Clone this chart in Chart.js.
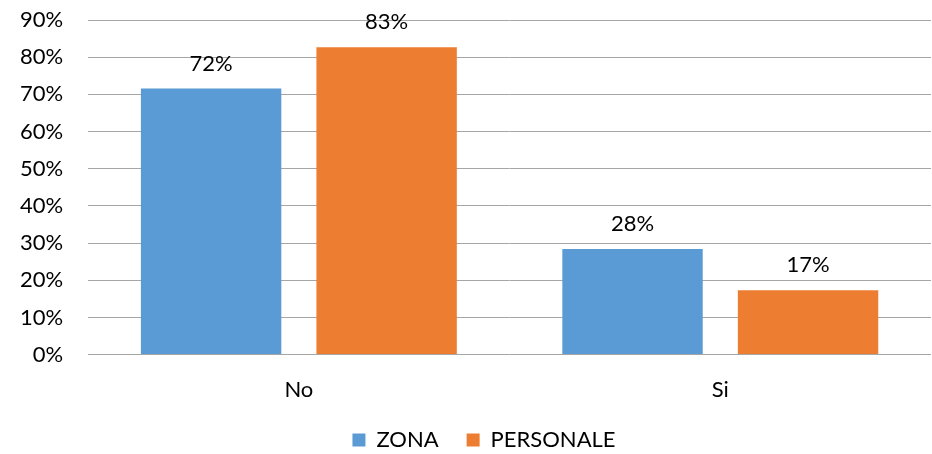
<!DOCTYPE html>
<html>
<head>
<meta charset="utf-8">
<script src="https://cdn.jsdelivr.net/npm/chart.js@4"></script>
<style>
  body { margin: 0; background: #fff; }
  #wrap { width: 932px; height: 454px; }
</style>
</head>
<body>
<div id="wrap"><canvas id="chart" width="932" height="454"></canvas></div>
<script>
const categories = ['No', 'Si'];
const zona = [71.6, 28.4];
const personale = [82.7, 17.3];
const seriesNames = ['ZONA', 'PERSONALE'];

const FONT = 'Lato, "Open Sans", sans-serif';

// draw the percentage above each bar
const barLabels = {
  id: 'barLabels',
  afterDatasetsDraw(chart) {
    const ctx = chart.ctx;
    ctx.save();
    ctx.font = '22px ' + FONT;
    ctx.fillStyle = '#000';
    ctx.textAlign = 'center';
    ctx.textBaseline = 'bottom';
    chart.data.datasets.forEach((ds, i) => {
      chart.getDatasetMeta(i).data.forEach((bar, j) => {
        ctx.fillText(Math.round(ds.data[j]) + '%', bar.x, bar.y - 14);
      });
    });
    ctx.restore();
  }
};

// legend centring counts trailing padding; nudge it back right
const legendShift = {
  id: 'legendShift',
  afterLayout(chart) {
    chart.legend.left += 21;
    chart.legend.right += 21;
  }
};

new Chart(document.getElementById('chart'), {
  type: 'bar',
  data: {
    labels: categories,
    datasets: [
      { label: seriesNames[0], data: zona, backgroundColor: '#5B9BD5' },
      { label: seriesNames[1], data: personale, backgroundColor: '#ED7D31' }
    ]
  },
  options: {
    responsive: false,
    animation: false,
    devicePixelRatio: 1,
    categoryPercentage: 0.833,
    barPercentage: 0.8,
    layout: { padding: { top: 0, right: 1, left: -5, bottom: -7 } },
    scales: {
      x: {
        grid: { display: false },
        border: { display: false },
        ticks: { color: '#000', font: { size: 22, family: FONT }, padding: 14 },
        // wider legend padding would squeeze the plot; give it back here
        afterFit: scale => { scale.height -= 16; }
      },
      y: {
        min: 0,
        max: 90,
        grid: { color: '#A6A6A6', drawTicks: false },
        border: { display: false },
        ticks: {
          stepSize: 10,
          color: '#000',
          padding: 25,
          font: { size: 22, family: FONT },
          callback: v => v + '%'
        },
        // tick padding also pads the top; pin the plot top instead
        afterFit: scale => {
          scale.paddingTop = 20;
          scale.paddingBottom = 0;
        }
      }
    },
    plugins: {
      legend: {
        position: 'bottom',
        labels: {
          color: '#000',
          font: { size: 22, family: FONT },
          boxWidth: 13,
          boxHeight: 13,
          padding: 28
        }
      },
      tooltip: { enabled: false }
    }
  },
  plugins: [barLabels, legendShift]
});
</script>
</body>
</html>
